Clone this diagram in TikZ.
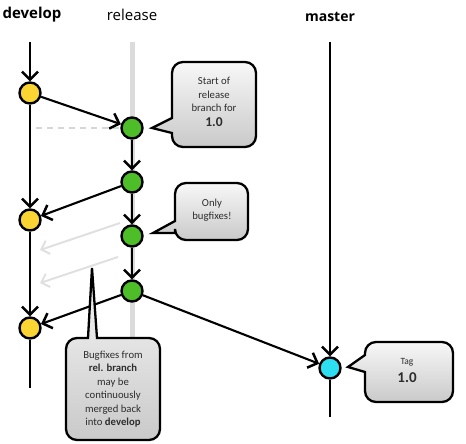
\documentclass[tikz,border=0pt]{standalone}
\usepackage{fontspec}
\setmainfont{Carlito}
\newfontfamily\labelfont{Open Sans}
\usetikzlibrary{arrows.meta}
\definecolor{yel}{RGB}{250,212,50}
\definecolor{grn}{RGB}{78,190,40}
\definecolor{cyn}{RGB}{45,222,240}
\definecolor{txt}{RGB}{45,45,45}
\begin{document}
\begin{tikzpicture}[x=1pt,y=-1pt,
  commit/.style={circle, draw=black, line width=2.4pt, minimum size=21pt, inner sep=0pt},
  tipped/.style={-{Straight Barb[length=8pt,width=16pt,line width=2.5pt]}},
  branchline/.style={black, line width=2.1pt},
  relline/.style={draw=black!14, line width=5pt},
  ghost/.style={draw=black!12, line width=2pt},
  ghosttip/.style={-{Straight Barb[length=7pt,width=14pt,line width=2pt]}},
  bubble/.style={draw=black, line width=2.3pt, top color=black!3, bottom color=black!21},
  btext/.style={align=center, text=txt, font=\fontsize{10.7}{13.5}\selectfont, inner sep=0pt},
  lbl/.style={font=\labelfont\fontsize{15}{18}\selectfont, inner sep=0pt}
]
\useasboundingbox (0,0) rectangle (466,444);

% labels
\node[lbl, font=\labelfont\bfseries\fontsize{15}{18}\selectfont] (ldev) at (32,15) {develop};
\node[lbl] (lrel) at (132,15) {release};
\node[lbl, font=\labelfont\bfseries\fontsize{14}{17}\selectfont] (lmas) at (330,17) {master};

% coordinates
\coordinate (dtop) at (30,42);
\coordinate (dbot) at (30,388);
\coordinate (rtop) at (132,42);
\coordinate (rbot) at (132,340);
\coordinate (mtop) at (330,42);
\coordinate (mbot) at (330,417);
\coordinate (la1s) at (120,223);
\coordinate (la1e) at (40,250);
\coordinate (la2s) at (118,257);
\coordinate (la2e) at (40,283);
\coordinate (dsh) at (36,128);

% release background line
\draw[relline] (rtop) -- (rbot);

% commits
\node[commit, fill=yel] (y1) at (30,93) {};
\node[commit, fill=yel] (y2) at (30,220) {};
\node[commit, fill=yel] (y3) at (30,328) {};
\node[commit, fill=grn] (g1) at (132,128) {};
\node[commit, fill=grn] (g2) at (132,182) {};
\node[commit, fill=grn] (g3) at (132,236) {};
\node[commit, fill=grn] (g4) at (132,291) {};
\node[commit, fill=cyn] (c1) at (330,368) {};

% develop line
\draw[branchline, tipped] (dtop) -- (y1);
\draw[branchline, tipped] (y1) -- (y2);
\draw[branchline, tipped] (y2) -- (y3);
\draw[branchline] (y3) -- (dbot);

% master line
\draw[branchline, line width=1.8pt, tipped] (mtop) -- (c1);
\draw[branchline, line width=1.8pt] (c1) -- (mbot);

% release arrows
\draw[branchline, tipped] (g1) -- (g2);
\draw[branchline, tipped] (g2) -- (g3);
\draw[branchline, tipped] (g3) -- (g4);

% merges
\draw[black!16, line width=2pt, dash pattern=on 6pt off 5pt] (dsh) -- (g1);
\draw[branchline, tipped] (y1) -- (g1);
\draw[branchline, tipped] (g2) -- (y2);
\draw[branchline, tipped] (g4) -- (y3);
\draw[branchline, tipped] (g4) -- (c1);
\draw[ghost, ghosttip] (la1s) -- (la1e);
\draw[ghost, ghosttip] (la2s) -- (la2e);

% bubbles
\draw[bubble] (172,118) [rounded corners=11pt] -- (172,62) -- (256,62) -- (256,147) -- (172,147) [sharp corners] -- (172,133) -- (152,128) -- cycle;
\node[btext] (b1) at (214,102) {Start of\\release\\branch for\\[1pt]{\bfseries\fontsize{13.5}{14}\selectfont 1.0}};

\draw[bubble] (175,221) [rounded corners=11pt] -- (175,183) -- (248,183) -- (248,240) -- (175,240) [sharp corners] -- (175,233) -- (153,233) -- cycle;
\node[btext] (b2) at (212,210) {Only\\bugfixes!};

\draw[bubble] (97,338) [rounded corners=11pt] -- (160,338) -- (160,440) -- (66,440) -- (66,338) [sharp corners] -- (88,338) -- (92,268) -- cycle;
\node[btext] (b3) at (113,389) {Bugfixes from\\\textbf{rel. branch}\\may be\\continuously\\merged back\\into \textbf{develop}};

\draw[bubble] (365,355) [rounded corners=11pt] -- (365,342) -- (453,342) -- (453,402) -- (365,402) [sharp corners] -- (365,372) -- (348,367) -- cycle;
\node[btext, font=\fontsize{9.5}{11}\selectfont] (b4t) at (407,362) {Tag};
\node[btext, font=\bfseries\fontsize{15}{16}\selectfont] (b4v) at (407,378) {1.0};
\end{tikzpicture}
\end{document}
